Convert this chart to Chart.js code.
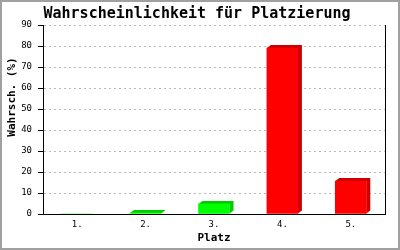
<!DOCTYPE html>
<html>
<head>
<meta charset="utf-8">
<script src="https://cdn.jsdelivr.net/npm/chart.js@4/dist/chart.umd.min.js"></script>
<style>
  html, body { margin: 0; padding: 0; background: #fff; }
</style>
</head>
<body>
<canvas id="chart" width="400" height="250"></canvas>
<script>
var places = ['1.', '2.', '3.', '4.', '5.'];
var chances = [0, 0.5, 4.8, 79, 15.7];
var frontColors = ['#00ff00', '#00ff00', '#00ff00', '#ff0000', '#ff0000'];
var sideColors = ['#00cc00', '#00cc00', '#00cc00', '#cc0000', '#cc0000'];
var yTicks = [0, 10, 20, 30, 40, 50, 60, 70, 80, 90];

var mono = '"DejaVu Sans Mono", "Liberation Mono", monospace';

// frame, right edge line and y title
var decor = {
  id: 'decor',
  beforeDraw: function(chart) {
    var ctx = chart.ctx;
    ctx.save();
    ctx.fillStyle = '#fff';
    ctx.fillRect(0, 0, chart.width, chart.height);
    ctx.restore();
  },
  afterDraw: function(chart) {
    var ctx = chart.ctx, a = chart.chartArea;
    ctx.save();
    ctx.strokeStyle = '#000';
    ctx.lineWidth = 1;
    ctx.beginPath();
    ctx.moveTo(Math.round(a.right) + 0.5, a.top);
    ctx.lineTo(Math.round(a.right) + 0.5, a.bottom + 1);
    ctx.stroke();

    ctx.strokeStyle = '#a0a0a0';
    ctx.lineWidth = 2;
    ctx.strokeRect(1, 1, chart.width - 2, chart.height - 2);

    ctx.translate(12, 97);
    ctx.rotate(-Math.PI / 2);
    ctx.fillStyle = '#000';
    ctx.font = 'bold 11px ' + mono;
    ctx.textAlign = 'center';
    ctx.textBaseline = 'middle';
    ctx.fillText('Wahrsch. (%)', 0, 0);
    ctx.restore();
  }
};

// fake 3d: top and side faces behind each bar
var depth = {
  id: 'depth',
  beforeDatasetsDraw: function(chart) {
    var ctx = chart.ctx;
    var meta = chart.getDatasetMeta(0);
    var dx = 4, dy = 3;
    ctx.save();
    meta.data.forEach(function(bar, i) {
      if (!chances[i]) return;
      var l = bar.x - bar.width / 2, r = bar.x + bar.width / 2;
      var t = bar.y, b = bar.base;
      ctx.fillStyle = sideColors[i];
      ctx.beginPath();
      ctx.moveTo(l, t);
      ctx.lineTo(l + dx, t - dy);
      ctx.lineTo(r + dx, t - dy);
      ctx.lineTo(r + dx, b - dy);
      ctx.lineTo(r, b);
      ctx.lineTo(r, t);
      ctx.closePath();
      ctx.fill();
    });
    ctx.restore();
  }
};

new Chart(document.getElementById('chart'), {
  type: 'bar',
  data: {
    labels: places,
    datasets: [{
      data: chances,
      backgroundColor: frontColors,
      borderWidth: 0,
      barThickness: 31
    }]
  },
  options: {
    responsive: false,
    animation: false,
    events: [],
    layout: { padding: { left: 9, right: 15, top: 0, bottom: 0 } },
    plugins: {
      legend: { display: false },
      tooltip: { enabled: false },
      title: {
        display: true,
        text: 'Wahrscheinlichkeit für Platzierung',
        color: '#000',
        font: { family: mono, size: 15, weight: 'bold' },
        padding: { top: 5, bottom: 2 }
      }
    },
    scales: {
      x: {
        afterFit: function(s) { s.height = 36; },
        grid: { display: false, drawTicks: false },
        border: { display: true, color: '#000', width: 1 },
        ticks: { color: '#000', font: { family: mono, size: 9 }, padding: 5 },
        title: {
          display: true,
          text: 'Platz',
          color: '#000',
          font: { family: mono, size: 11, weight: 'bold' },
          padding: { top: 0, bottom: 5 }
        }
      },
      y: {
        min: 0,
        max: 90,
        afterFit: function(s) { s.width = 34; },
        afterBuildTicks: function(s) {
          s.ticks = yTicks.map(function(v) { return { value: v }; });
        },
        grid: {
          color: function(c) { return c.tick && c.tick.value === 0 ? 'rgba(0,0,0,0)' : '#bbbbbb'; },
          tickColor: '#000',
          tickLength: 5,
          tickBorderDash: []
        },
        border: { display: true, color: '#000', width: 1, dash: [2, 3] },
        ticks: { color: '#000', font: { family: mono, size: 9 }, padding: 6 }
      }
    }
  },
  plugins: [decor, depth]
});
</script>
</body>
</html>
